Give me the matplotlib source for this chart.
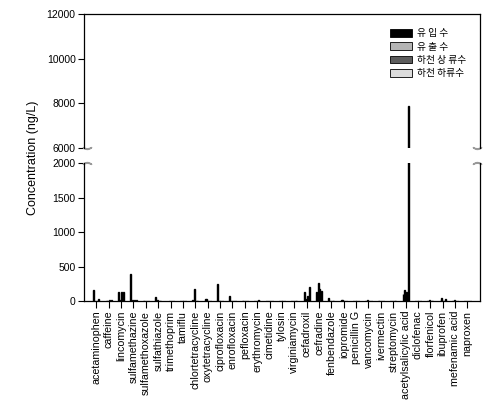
import matplotlib
matplotlib.use('Agg')
import matplotlib.pyplot as plt
import numpy as np

plt.rcParams['font.family'] = ['Liberation Sans', 'Noto Sans CJK KR', 'DejaVu Sans']

compounds = ['acetaminophen', 'caffeine', 'lincomycin', 'sulfamethazine', 'sulfamethoxazole',
             'sulfathiazole', 'trimethoprim', 'tamiflu', 'chlortetracycline', 'oxytetracycline',
             'ciprofloxacin', 'enrofloxacin', 'pefloxacin', 'erythromycin', 'cimetidine',
             'tylosin', 'virginiamycin', 'cefadroxil', 'cefradine', 'fenbendazole',
             'iopromide', 'penicillin G', 'vancomycin', 'ivermectin', 'streptomycin',
             'acetylsalicylic acid', 'diclofenac', 'florfenicol', 'ibuprofen', 'mefenamic acid',
             'naproxen']

# 농도 (ng/L), 시료별
influent = [160, 0, 135, 390, 0, 60, 0, 0, 10, 30, 250, 75, 0, 0, 0, 0, 0, 135, 135, 45,
            15, 0, 0, 0, 0, 97, 0, 0, 0, 0, 0]
effluent = [0, 0, 10, 15, 0, 15, 0, 0, 175, 30, 0, 0, 0, 0, 0, 0, 0, 33, 265, 0,
            15, 0, 12, 0, 0, 160, 0, 15, 45, 12, 0]
upstream = [0, 15, 135, 15, 0, 0, 0, 0, 0, 0, 0, 0, 0, 10, 0, 0, 0, 72, 170, 0,
            0, 0, 0, 0, 0, 130, 0, 0, 0, 0, 0]
downstream = [30, 15, 135, 15, 0, 0, 0, 0, 0, 0, 0, 0, 0, 0, 0, 0, 0, 205, 150, 0,
              0, 0, 0, 0, 0, 7900, 0, 0, 25, 0, 0]

labels = ['유 입 수', '유 출 수', '하천 상 류수', '하천 하류수']
colors = ['black', '#b4b4b4', '#5c5c5c', '#dcdcdc']
series = [influent, effluent, upstream, downstream]

fig = plt.figure(figsize=(5.01, 4.11), dpi=100)
ax_top = fig.add_axes([0.1677, 0.640, 0.790, 0.326])
ax_bot = fig.add_axes([0.1677, 0.2676, 0.790, 0.3358])

x = np.arange(len(compounds))
step = 0.14
offsets = [-1.5 * step, -0.5 * step, 0.5 * step, 1.5 * step]

for vals, c, lab, off in zip(series, colors, labels, offsets):
    for ax in (ax_top, ax_bot):
        ax.bar(x + off, vals, width=0.08, color=c, edgecolor='black', linewidth=1.0, label=lab)

ax_top.set_ylim(6000, 12000)
ax_bot.set_ylim(0, 2000)
for ax in (ax_top, ax_bot):
    ax.set_xlim(-1, 31)
    ax.tick_params(axis='y', direction='out', length=4, width=0.8, labelsize=7.5, pad=2)
    for s in ax.spines.values():
        s.set_linewidth(0.9)

ax_top.set_yticks([6000, 8000, 10000, 12000])
ax_top.set_xticks([])
ax_top.spines['bottom'].set_visible(False)

ax_bot.set_yticks([0, 500, 1000, 1500, 2000])
ax_bot.spines['top'].set_visible(False)
ax_bot.set_xticks(x)
ax_bot.set_xticklabels(compounds, rotation=90, fontsize=7.7)
ax_bot.tick_params(axis='x', direction='out', length=5, width=0.8, pad=2)

# 축 끊김 표시
for xx in (0.008, 0.992):
    ax_top.plot([xx], [0], transform=ax_top.transAxes, marker=r'$\smile$', color='0.6',
                markersize=6, clip_on=False)
    ax_bot.plot([xx], [1], transform=ax_bot.transAxes, marker=r'$\frown$', color='0.6',
                markersize=6, clip_on=False)

h, l = ax_top.get_legend_handles_labels()
leg = ax_top.legend(h, l, loc='upper left', bbox_to_anchor=(0.755, 0.945), frameon=False,
                    handlelength=2.3, handleheight=0.85, labelspacing=0.35,
                    handletextpad=0.5, borderpad=0.2,
                    prop={'family': ['Noto Sans CJK KR'], 'size': 7})
for p in leg.get_patches():
    p.set_linewidth(0.6)

fig.text(0.066, 0.615, 'Concentration (ng/L)', rotation=90, ha='center', va='center', fontsize=9)

fig.savefig('out.png', dpi=100)
